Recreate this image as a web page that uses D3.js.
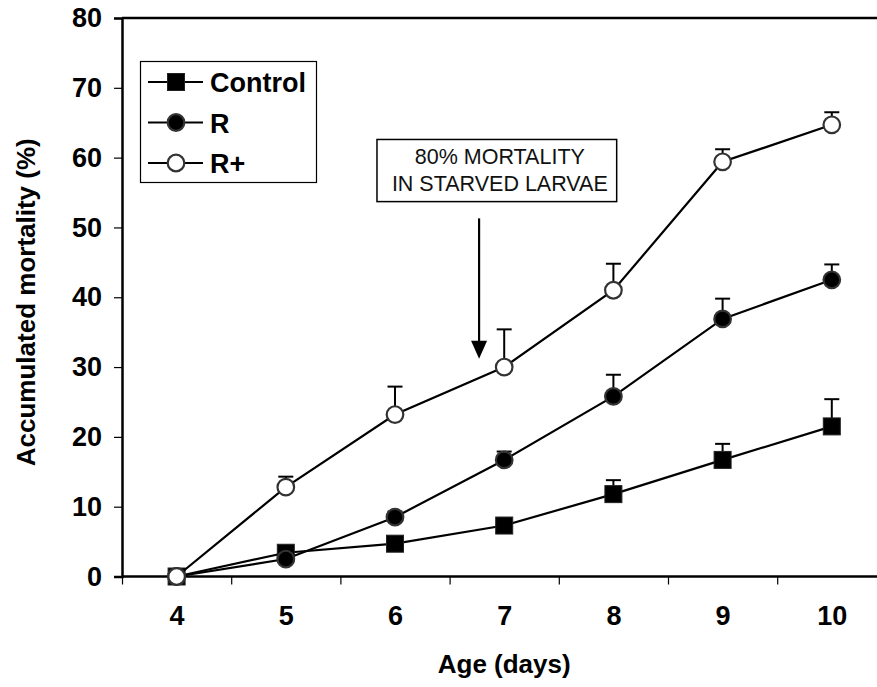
<!DOCTYPE html>
<html><head><meta charset="utf-8">
<script src="https://cdn.jsdelivr.net/npm/d3@7"></script>
<style>
body{margin:0;background:#fff;}
svg{display:block;font-family:Arial,"Liberation Sans",sans-serif;}
</style></head>
<body><svg id="c" width="877" height="687"></svg>
<script>
const days = [4,5,6,7,8,9,10];
const seriesNames = ["Control","R","R+"];
const control = [0, 3.4, 4.7, 7.3, 11.8, 16.7, 21.5];
const controlErr = [0, 0.8, 0.8, 0.9, 2.0, 2.3, 3.9];
const rVals = [0, 2.5, 8.5, 16.7, 25.8, 36.9, 42.5];
const rErr = [0, 0.5, 0.8, 1.2, 3.1, 2.9, 2.2];
const rPlus = [0, 12.8, 23.2, 30.0, 41.0, 59.4, 64.7];
const rPlusErr = [0, 1.5, 4.0, 5.4, 3.8, 1.8, 1.8];
const yTicks = [0,10,20,30,40,50,60,70,80];
const annotationLines = ["80% MORTALITY","IN STARVED LARVAE"];
const xTitle = "Age (days)";
const yTitle = "Accumulated mortality (%)";

const svg = d3.select("#c");
const mLeft = 122, mTop = 18, mBottom = 576.5, bandW = 109.2;
const x = d3.scaleLinear().domain([3.5, 10.5]).range([mLeft, mLeft + 7*bandW]);
const y = d3.scaleLinear().domain([0, 80]).range([mBottom, mTop]);

// frame top line
svg.append("line").attr("x1", mLeft).attr("x2", 877).attr("y1", y(80)).attr("y2", y(80))
  .attr("stroke","#000").attr("stroke-width",2.5);

// y axis
const ya = svg.append("g").attr("transform",`translate(${mLeft},0)`)
  .call(d3.axisLeft(y).tickValues(yTicks).tickSize(8).tickPadding(12));
ya.select(".domain").attr("stroke-width",2.5);
ya.selectAll(".tick line").attr("stroke-width",1.2);
ya.selectAll("text").attr("font-size",27).attr("font-weight","bold").attr("font-family","Arial,'Liberation Sans',sans-serif").attr("fill","#000");

// x axis boundaries
const xa = svg.append("g").attr("transform",`translate(0,${mBottom})`)
  .call(d3.axisBottom(x).tickValues([3.5,4.5,5.5,6.5,7.5,8.5,9.5]).tickSize(8).tickFormat(""));
xa.select(".domain").remove();
xa.selectAll(".tick line").attr("stroke-width",1.2);
svg.append("line").attr("x1", mLeft).attr("x2", 877).attr("y1", mBottom).attr("y2", mBottom)
  .attr("stroke","#000").attr("stroke-width",2.5);
const xl = svg.append("g").attr("transform",`translate(0,${mBottom})`)
  .call(d3.axisBottom(x).tickValues(days).tickSize(0).tickPadding(29).tickFormat(d3.format("d")));
xl.select(".domain").remove();
xl.selectAll("text").attr("font-size",27).attr("font-weight","bold").attr("font-family","Arial,'Liberation Sans',sans-serif").attr("fill","#000");

// titles
svg.append("text").attr("x", (x(3.5)+x(10.5))/2).attr("y", 673).attr("text-anchor","middle")
  .attr("font-size",26).attr("font-weight","bold").text(xTitle);
svg.append("text").attr("transform",`translate(35,${(mTop+mBottom)/2+5}) rotate(-90)`).attr("text-anchor","middle")
  .attr("font-size",26).attr("font-weight","bold").text(yTitle);

// series
const series = [
  {name: seriesNames[0], vals: control, err: controlErr, shape: "square"},
  {name: seriesNames[1], vals: rVals, err: rErr, shape: "filled"},
  {name: seriesNames[2], vals: rPlus, err: rPlusErr, shape: "open"}
];
const line = d3.line().x((d,i)=>x(days[i])).y(d=>y(d));

function marker(g, shape, cx, cy){
  if(shape==="square"){
    g.append("rect").attr("x",cx-8.5).attr("y",cy-8.5).attr("width",17).attr("height",17)
      .attr("fill","#000").attr("stroke","#222").attr("stroke-width",1);
  } else {
    g.append("circle").attr("cx",cx).attr("cy",cy).attr("r",8.3)
      .attr("fill", shape==="filled" ? "#000" : "#fff").attr("stroke","#333").attr("stroke-width",2.2);
  }
}

series.forEach(s=>{
  const g = svg.append("g");
  s.vals.forEach((v,i)=>{
    if(s.err[i] <= 0) return;
    const cx = x(days[i]);
    g.append("line").attr("x1",cx).attr("x2",cx).attr("y1",y(v)).attr("y2",y(v+s.err[i]))
      .attr("stroke","#000").attr("stroke-width",2);
    g.append("line").attr("x1",cx-7.5).attr("x2",cx+7.5).attr("y1",y(v+s.err[i])).attr("y2",y(v+s.err[i]))
      .attr("stroke","#000").attr("stroke-width",2);
  });
  g.append("path").attr("d", line(s.vals)).attr("fill","none").attr("stroke","#000").attr("stroke-width",2.2);
  s.vals.forEach((v,i)=> marker(g, s.shape, x(days[i]), y(v)));
});

// legend
const lg = svg.append("g");
lg.append("rect").attr("x",140.5).attr("y",61.5).attr("width",176).attr("height",121)
  .attr("fill","#fff").attr("stroke","#000").attr("stroke-width",1.2);
series.forEach((s,i)=>{
  const cy = 82 + i*40.5;
  lg.append("line").attr("x1",148).attr("x2",203).attr("y1",cy).attr("y2",cy).attr("stroke","#000").attr("stroke-width",2);
  marker(lg, s.shape, 176, cy);
  lg.append("text").attr("x",210).attr("y",cy+10).attr("font-size",27).attr("font-weight","bold").text(s.name);
});

// annotation box + arrow (in data coordinates)
const box = {x0: 5.835, x1: 8.03, y0: 62.6, y1: 53.7};
svg.append("rect").attr("x",x(box.x0)).attr("y",y(box.y0)).attr("width",x(box.x1)-x(box.x0)).attr("height",y(box.y1)-y(box.y0))
  .attr("fill","#fff").attr("stroke","#000").attr("stroke-width",1.5);
annotationLines.forEach((t,i)=>{
  svg.append("text").attr("x",(x(box.x0)+x(box.x1))/2+3).attr("y",y(box.y0)+25+i*26.5).attr("text-anchor","middle")
    .attr("font-size",21.5).attr("fill","#111").text(t);
});
const arrow = {xv: 6.77, yStart: 51.3, yTip: 31.2};
const ax = x(arrow.xv);
svg.append("line").attr("x1",ax).attr("x2",ax).attr("y1",y(arrow.yStart)).attr("y2",y(arrow.yTip)-16)
  .attr("stroke","#000").attr("stroke-width",2.2);
svg.append("path").attr("d",`M${ax-8},${y(arrow.yTip)-18} L${ax+8},${y(arrow.yTip)-18} L${ax},${y(arrow.yTip)} Z`).attr("fill","#000");
</script></body></html>
